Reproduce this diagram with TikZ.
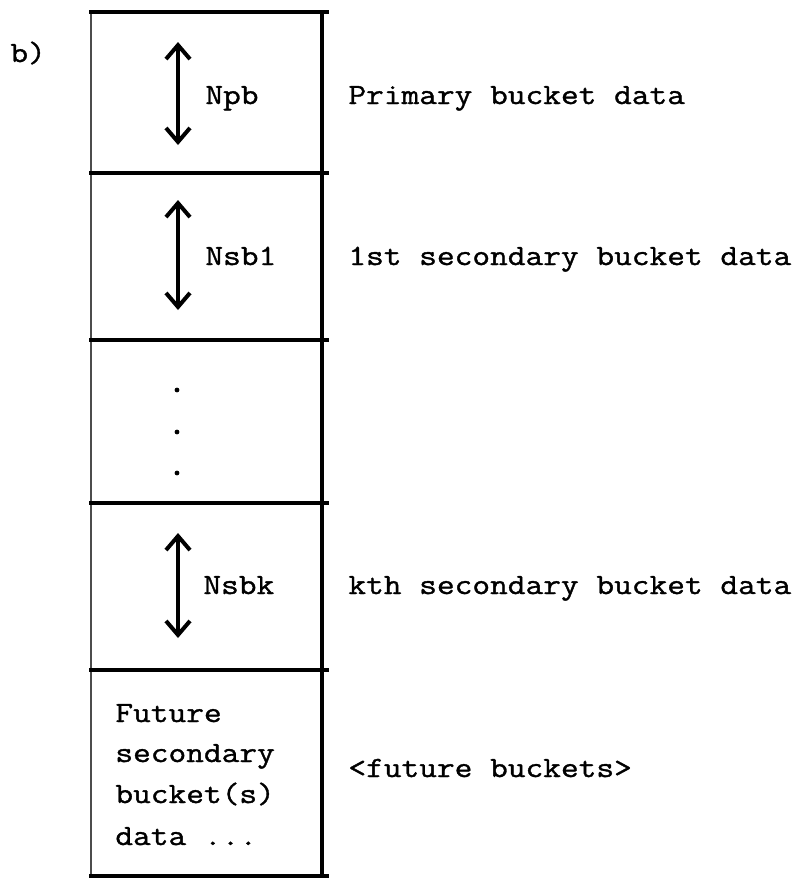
\documentclass[tikz,border=0pt]{standalone}
\usepackage{fontspec}
\setmonofont{Latin Modern Mono}[FakeStretch=1.17,FakeBold=1.2]
\usetikzlibrary{arrows.meta}
\begin{document}
\begin{tikzpicture}[x=0.5pt,y=-0.5pt,
  txt/.style={anchor=base west,inner sep=0pt,font=\fontsize{14.7}{20.5}\selectfont\ttfamily},
  hline/.style={line width=2pt},
  rline/.style={line width=1.8pt},
  lline/.style={line width=1pt,black!70},
  dbl/.style={line width=2pt,{Straight Barb[length=7pt,width=12pt,line width=2pt]}-{Straight Barb[length=7pt,width=12pt,line width=2pt]}},
  dotm/.style={circle,fill=black,inner sep=0pt,minimum size=2.4pt}]
\useasboundingbox (0,0) rectangle (800,879);
% outline
\draw[lline] (91,12) -- (91,876);
\draw[rline] (322,12) -- (322,876);
\foreach \yy in {12,173,340,503,670,876}
  \draw[hline] (89,\yy) -- (329,\yy);
% label
\node[txt] (lbl) at (10,62) {b)};
% arrows
\coordinate (a1t) at (178,42); \coordinate (a1b) at (178,145);
\coordinate (a2t) at (178,200); \coordinate (a2b) at (178,310);
\coordinate (a3t) at (178,533); \coordinate (a3b) at (178,638);
\draw[dbl] (a1t) -- (a1b);
\draw[dbl] (a2t) -- (a2b);
\draw[dbl] (a3t) -- (a3b);
% inner labels
\node[txt] (npb) at (205,104) {Npb};
\node[txt] (nsb1) at (205,265) {Nsb1};
\node[txt] (nsbk) at (203,594) {Nsbk};
% dots
\node[dotm] (d1) at (177,390) {};
\node[dotm] (d2) at (177,432) {};
\node[dotm] (d3) at (177,473) {};
% future text
\node[txt] (f1) at (115,722) {Future};
\node[txt] (f2) at (115,762) {secondary};
\node[txt] (f3) at (115,803) {bucket(s)};
\node[txt] (f4) at (115,845) {data ...};
% right labels
\node[txt] (r1) at (348,104) {Primary bucket data};
\node[txt] (r2) at (348,265) {1st secondary bucket data};
\node[txt] (r3) at (348,594) {kth secondary bucket data};
\node[txt] (r4) at (348,777) {<future buckets>};
\end{tikzpicture}
\end{document}
